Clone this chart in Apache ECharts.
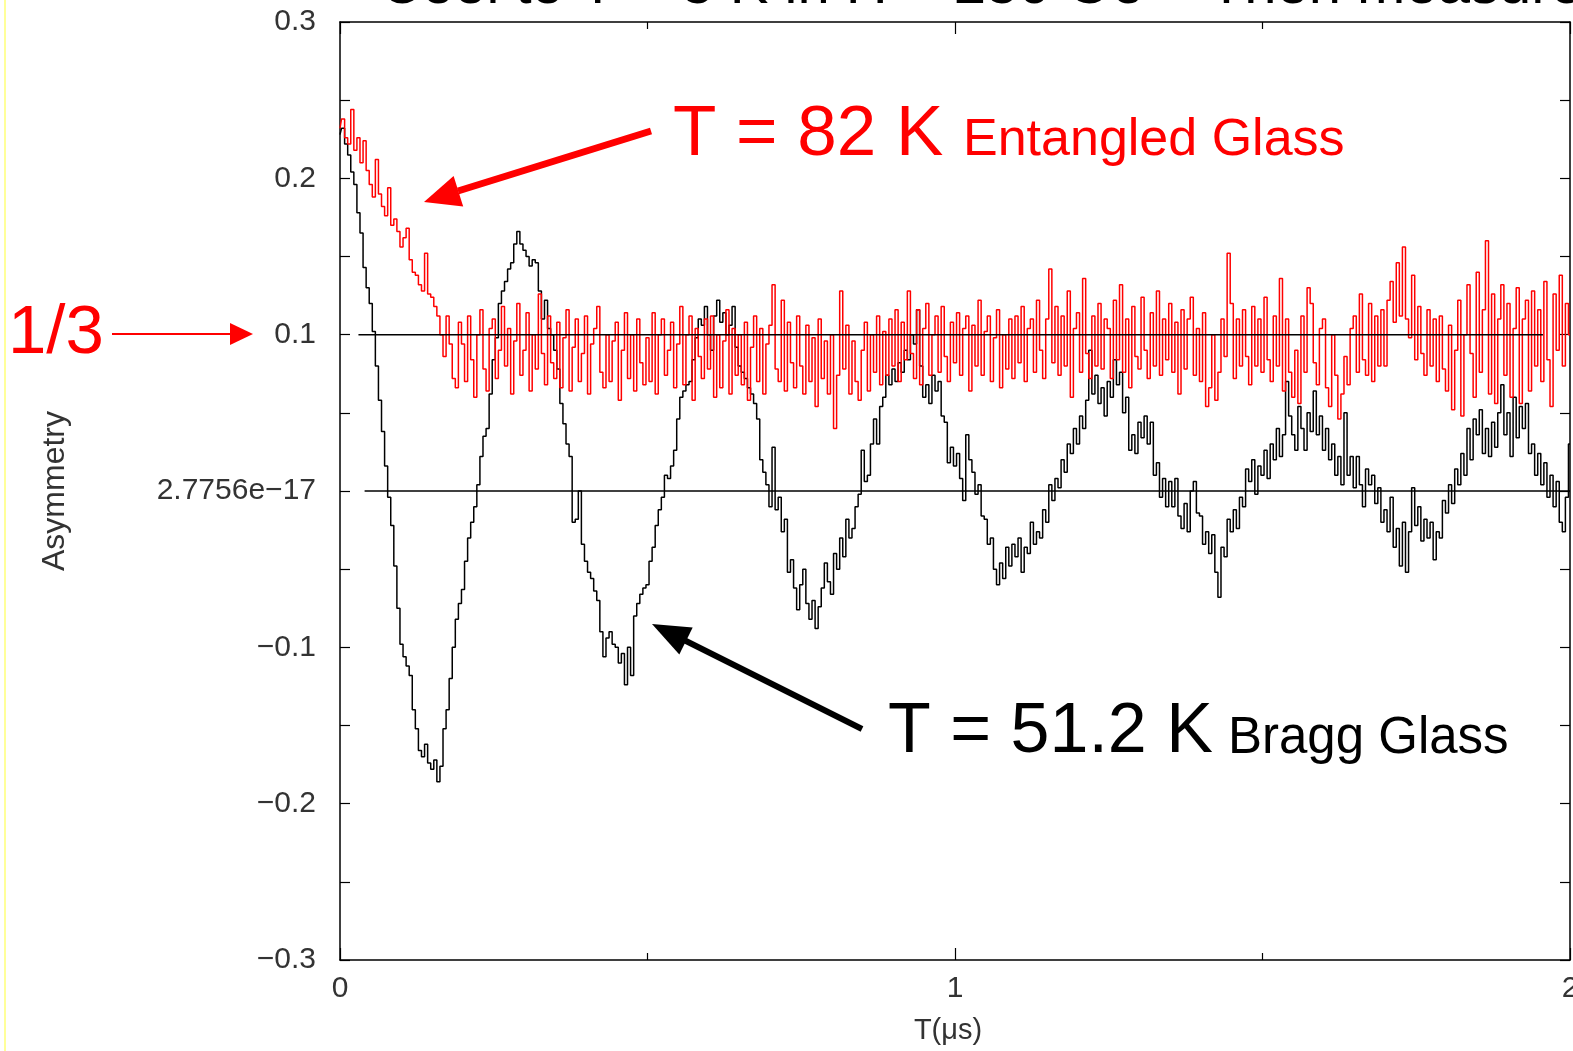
<!DOCTYPE html>
<html>
<head>
<meta charset="utf-8">
<script src="https://cdn.jsdelivr.net/npm/echarts@6/dist/echarts.min.js"></script>
<style>html,body{margin:0;padding:0;background:#fff;overflow:hidden}#c{width:1573px;height:1051px}</style>
</head>
<body>
<div id="c"></div>
<script>
// ---- data ----
const binWidth = 0.005; // μs per histogram bin
const xTickLabels = ['0', '1', '2'];
const yTickLabels = ['\u22120.3', '\u22120.2', '\u22120.1', '2.7756e\u221217', '0.1', '0.2', '0.3'];

// T = 51.2 K (Bragg Glass), asymmetry per bin
const braggGlass = [
 0.228,0.232,0.222,0.215,0.204,0.196,0.178,0.165,0.143,0.130,
 0.120,0.102,0.080,0.058,0.038,0.016,-0.004,-0.022,-0.048,-0.075,
 -0.098,-0.106,-0.112,-0.118,-0.140,-0.152,-0.166,-0.170,-0.162,-0.174,
 -0.178,-0.172,-0.186,-0.176,-0.152,-0.140,-0.120,-0.100,-0.082,-0.072,
 -0.063,-0.045,-0.030,-0.020,-0.010,0.004,0.022,0.035,0.040,0.062,
 0.084,0.098,0.120,0.128,0.134,0.142,0.146,0.158,0.166,0.158,
 0.154,0.150,0.144,0.148,0.146,0.128,0.110,0.122,0.104,0.100,
 0.090,0.078,0.056,0.043,0.030,0.022,-0.020,-0.018,0.000,-0.034,
 -0.045,-0.052,-0.056,-0.064,-0.070,-0.090,-0.106,-0.094,-0.090,-0.098,
 -0.100,-0.110,-0.104,-0.124,-0.100,-0.118,-0.080,-0.072,-0.066,-0.062,
 -0.060,-0.045,-0.036,-0.022,-0.012,-0.004,0.010,0.008,0.016,0.026,
 0.046,0.060,0.064,0.068,0.070,0.084,0.098,0.110,0.106,0.118,
 0.100,0.090,0.112,0.122,0.108,0.114,0.100,0.106,0.118,0.092,
 0.080,0.076,0.072,0.066,0.062,0.056,0.046,0.020,0.012,0.004,
 -0.010,0.028,-0.012,-0.004,-0.026,-0.018,-0.052,-0.044,-0.062,-0.076,
 -0.060,-0.050,-0.072,-0.082,-0.070,-0.088,-0.074,-0.062,-0.046,-0.058,
 -0.066,-0.040,-0.050,-0.030,-0.042,-0.018,-0.030,-0.024,-0.010,-0.002,
 0.026,0.006,0.010,0.030,0.046,0.030,0.054,0.060,0.074,0.068,
 0.078,0.070,0.082,0.076,0.090,0.084,0.100,0.094,0.116,0.080,
 0.060,0.068,0.056,0.074,0.064,0.070,0.048,0.044,0.018,0.028,
 0.016,0.024,0.008,-0.006,0.036,0.020,0.012,-0.002,0.004,-0.016,
 -0.018,-0.034,-0.030,-0.050,-0.060,-0.046,-0.056,-0.036,-0.048,-0.034,
 -0.042,-0.030,-0.052,-0.036,-0.040,-0.020,-0.034,-0.026,-0.030,-0.012,
 -0.020,0.004,-0.006,0.008,0.002,0.020,0.012,0.030,0.024,0.040,
 0.030,0.048,0.040,0.058,0.090,0.062,0.074,0.056,0.066,0.048,
 0.070,0.060,0.084,0.068,0.076,0.050,0.060,0.026,0.036,0.024,
 0.044,0.034,0.048,0.030,0.044,0.010,0.018,-0.004,0.008,-0.010,
 0.006,-0.010,0.008,-0.016,-0.024,-0.008,-0.026,0.000,0.006,-0.014,
 -0.016,-0.034,-0.026,-0.040,-0.028,-0.052,-0.068,-0.036,-0.042,-0.018,
 -0.026,-0.012,-0.024,-0.004,-0.010,0.014,0.006,0.020,-0.002,0.016,
 0.010,0.026,0.008,0.030,0.020,0.040,0.022,0.036,0.070,0.048,
 0.036,0.026,0.054,0.040,0.026,0.050,0.038,0.064,0.036,0.048,
 0.026,0.040,0.020,0.030,0.010,0.022,0.004,0.050,0.010,0.022,
 0.002,0.022,0.004,-0.010,0.014,0.004,0.010,-0.008,0.002,-0.020,
 -0.012,-0.026,-0.004,-0.036,-0.024,-0.048,-0.020,-0.052,-0.026,0.002,
 -0.022,-0.010,-0.032,-0.018,-0.030,-0.020,-0.044,-0.026,-0.030,-0.006,
 -0.014,0.004,-0.008,0.014,0.004,0.024,0.010,0.040,0.020,0.046,
 0.036,0.052,0.024,0.040,0.022,0.044,0.028,0.050,0.068,0.036,
 0.050,0.022,0.060,0.034,0.054,0.040,0.056,0.024,0.030,0.010,
 0.024,0.004,0.018,-0.004,0.010,-0.010,0.006,-0.020,-0.026,-0.004,
 0.030
];

// T = 82 K (Entangled Glass), asymmetry per bin
const entangledGlass = [
 0.232,0.238,0.226,0.222,0.244,0.218,0.226,0.210,0.224,0.205,
 0.196,0.188,0.212,0.190,0.182,0.176,0.194,0.170,0.174,0.166,
 0.156,0.162,0.168,0.148,0.140,0.138,0.132,0.128,0.152,0.126,
 0.124,0.118,0.112,0.100,0.086,0.112,0.094,0.072,0.066,0.108,
 0.094,0.070,0.112,0.084,0.060,0.100,0.116,0.078,0.064,0.104,
 0.110,0.072,0.090,0.118,0.080,0.104,0.062,0.096,0.120,0.074,
 0.090,0.114,0.064,0.100,0.078,0.126,0.088,0.068,0.112,0.082,
 0.072,0.108,0.066,0.098,0.116,0.064,0.092,0.110,0.070,0.088,
 0.112,0.062,0.094,0.104,0.118,0.076,0.066,0.100,0.070,0.096,
 0.108,0.058,0.090,0.114,0.072,0.100,0.064,0.110,0.082,0.068,
 0.098,0.070,0.114,0.062,0.100,0.110,0.074,0.090,0.108,0.066,
 0.094,0.118,0.068,0.100,0.112,0.058,0.104,0.086,0.072,0.110,
 0.078,0.112,0.060,0.100,0.066,0.096,0.116,0.062,0.104,0.074,
 0.100,0.068,0.108,0.058,0.092,0.112,0.070,0.104,0.062,0.094,
 0.106,0.132,0.078,0.070,0.122,0.064,0.108,0.082,0.066,0.112,
 0.080,0.062,0.106,0.070,0.098,0.054,0.110,0.072,0.096,0.062,
 0.100,0.040,0.074,0.128,0.078,0.106,0.062,0.096,0.070,0.058,
 0.090,0.108,0.064,0.100,0.076,0.112,0.068,0.102,0.074,0.110,
 0.080,0.116,0.070,0.108,0.084,0.128,0.088,0.072,0.116,0.068,
 0.104,0.120,0.074,0.100,0.112,0.076,0.118,0.086,0.070,0.108,
 0.082,0.114,0.074,0.104,0.112,0.064,0.106,0.080,0.122,0.074,
 0.102,0.112,0.070,0.098,0.116,0.066,0.100,0.078,0.110,0.072,
 0.112,0.082,0.118,0.070,0.104,0.110,0.076,0.122,0.090,0.072,
 0.110,0.142,0.082,0.118,0.074,0.112,0.080,0.128,0.060,0.104,
 0.114,0.076,0.136,0.088,0.072,0.112,0.080,0.120,0.078,0.110,
 0.104,0.072,0.122,0.084,0.132,0.076,0.110,0.066,0.118,0.086,
 0.078,0.124,0.090,0.072,0.114,0.080,0.128,0.074,0.110,0.084,
 0.120,0.076,0.108,0.062,0.116,0.078,0.110,0.124,0.074,0.104,
 0.070,0.114,0.054,0.066,0.100,0.058,0.076,0.110,0.086,0.152,
 0.120,0.072,0.110,0.080,0.116,0.086,0.068,0.118,0.080,0.110,
 0.076,0.124,0.084,0.070,0.112,0.080,0.136,0.064,0.110,0.076,
 0.060,0.090,0.056,0.112,0.076,0.130,0.120,0.082,0.068,0.104,
 0.110,0.066,0.054,0.100,0.074,0.046,0.062,0.086,0.068,0.104,
 0.112,0.076,0.126,0.084,0.074,0.120,0.070,0.112,0.080,0.116,
 0.080,0.122,0.134,0.108,0.146,0.112,0.156,0.110,0.098,0.138,
 0.084,0.118,0.088,0.074,0.116,0.080,0.110,0.070,0.112,0.078,
 0.064,0.106,0.052,0.090,0.122,0.048,0.100,0.132,0.088,0.060,
 0.140,0.076,0.116,0.160,0.062,0.126,0.056,0.110,0.132,0.074,
 0.120,0.060,0.104,0.130,0.056,0.110,0.122,0.064,0.128,0.080,
 0.116,0.070,0.134,0.084,0.054,0.126,0.090,0.138,0.080,0.120,
 0.100
];

// horizontal guide lines: [t, asymmetry] end points
const guideOneThird = [[0.03, 0.1], [1.956, 0.1]];
const guideZero = [[0.04, 0], [2.0, 0]];

// ---- build ----
const toPairs = arr => arr.map((v, i) => [+(i * binWidth).toFixed(3), v]);
const FONT = '"Liberation Sans", Arial, sans-serif';
const chart = echarts.init(document.getElementById('c'), null, {renderer: 'canvas', width: 1573, height: 1051});

const tickStyle = {color: '#000', width: 1.2};
const xBase = {
  type: 'value', min: 0, max: 2, interval: 1,
  axisLine: {show: true, onZero: false, lineStyle: {color: '#000', width: 1.5}},
  axisTick: {show: true, inside: true, length: 12, lineStyle: tickStyle},
  minorTick: {show: true, splitNumber: 2, length: 7, lineStyle: tickStyle},
  splitLine: {show: false}, minorSplitLine: {show: false}
};
const yBase = {
  type: 'value', min: -0.3, max: 0.3, interval: 0.1,
  axisLine: {show: true, onZero: false, lineStyle: {color: '#000', width: 1.5}},
  axisTick: {show: true, inside: true, length: 10, lineStyle: tickStyle},
  minorTick: {show: true, splitNumber: 2, length: 10, lineStyle: tickStyle},
  splitLine: {show: false}, minorSplitLine: {show: false}
};

const option = {
  animation: false,
  backgroundColor: '#fff',
  grid: {left: 340, right: 3, top: 22, bottom: 91, containLabel: false, outerBoundsMode: 'none'},
  xAxis: [
    Object.assign({}, xBase, {position: 'bottom',
      axisLabel: {show: true, margin: 14, fontSize: 30, color: '#333', fontFamily: FONT,
        formatter: v => xTickLabels[Math.round(v)] || ''}}),
    Object.assign({}, xBase, {position: 'top', axisLabel: {show: false}})
  ],
  yAxis: [
    Object.assign({}, yBase, {position: 'left',
      axisLabel: {show: true, margin: 24, fontSize: 30, color: '#333', fontFamily: FONT,
        formatter: v => yTickLabels[Math.round((v + 0.3) / 0.1)] || ''}}),
    Object.assign({}, yBase, {position: 'right', axisLabel: {show: false}})
  ],
  series: [
    {type: 'line', name: 'T = 51.2 K', data: toPairs(braggGlass), step: 'middle', showSymbol: false,
     lineStyle: {color: '#000', width: 1.5}, itemStyle: {color: '#000'}, z: 2},
    {type: 'line', name: 'T = 82 K', data: toPairs(entangledGlass), step: 'middle', showSymbol: false,
     lineStyle: {color: '#ff0000', width: 1.5}, itemStyle: {color: '#ff0000'}, z: 3},
    {type: 'line', data: guideOneThird, showSymbol: false, lineStyle: {color: '#000', width: 1.5}, z: 4},
    {type: 'line', data: guideZero, showSymbol: false, lineStyle: {color: '#000', width: 1.5}, z: 4}
  ],
  graphic: [
    {type: 'rect', shape: {x: 4, y: 0, width: 2, height: 1051}, style: {fill: '#ffff99'}},
    // cut-off title at the top
    {type: 'text', x: 380, y: -13, style: {
      text: '{a|Cool to T = 5 K in H = 250 Oe} {b|\u2192} {a|Then measure}',
      verticalAlign: 'middle',
      rich: {a: {fontSize: 58, fontFamily: FONT, fill: '#000'}, b: {fontSize: 58, fontFamily: FONT, fill: '#999'}}
    }},
    // axis names
    {type: 'text', x: 55, y: 491, rotation: Math.PI / 2, style: {
      text: 'Asymmetry', fontSize: 32, fontFamily: FONT, fill: '#333', align: 'center', verticalAlign: 'middle'}},
    {type: 'text', x: 948, y: 1031, style: {
      text: 'T(\u03bcs)', fontSize: 29, fontFamily: FONT, fill: '#333', align: 'center', verticalAlign: 'middle'}},
    // 1/3 label and arrow
    {type: 'text', x: 8, y: 334, style: {text: '1/3', fontSize: 69, fontFamily: FONT, fill: '#ff0000', align: 'left', verticalAlign: 'middle'}},
    {type: 'line', shape: {x1: 112, y1: 334, x2: 234, y2: 334}, style: {stroke: '#ff0000', lineWidth: 2}},
    {type: 'polygon', shape: {points: [[253, 334], [230, 323], [230, 345]]}, style: {fill: '#ff0000'}},
    // red annotation
    {type: 'line', shape: {x1: 651, y1: 131, x2: 458, y2: 191}, style: {stroke: '#ff0000', lineWidth: 7}},
    {type: 'polygon', shape: {points: [[424, 202], [453.6, 176], [463.2, 206.5]]}, style: {fill: '#ff0000'}},
    {type: 'text', x: 673, y: 135, style: {text: 'T = 82 K', fontSize: 71, fontFamily: FONT, fill: '#ff0000', verticalAlign: 'middle'}},
    {type: 'text', x: 963, y: 141, style: {text: 'Entangled Glass', fontSize: 52, fontFamily: FONT, fill: '#ff0000', verticalAlign: 'middle'}},
    // black annotation
    {type: 'line', shape: {x1: 862, y1: 729, x2: 684, y2: 640}, style: {stroke: '#000', lineWidth: 6}},
    {type: 'polygon', shape: {points: [[652, 624], [692.7, 627.6], [679.3, 654.4]]}, style: {fill: '#000'}},
    {type: 'text', x: 888, y: 733, style: {text: 'T = 51.2 K', fontSize: 70, fontFamily: FONT, fill: '#000', verticalAlign: 'middle'}},
    {type: 'text', x: 1228, y: 739, style: {text: 'Bragg Glass', fontSize: 51, fontFamily: FONT, fill: '#000', verticalAlign: 'middle'}}
  ]
};
chart.setOption(option);
</script>
</body>
</html>
